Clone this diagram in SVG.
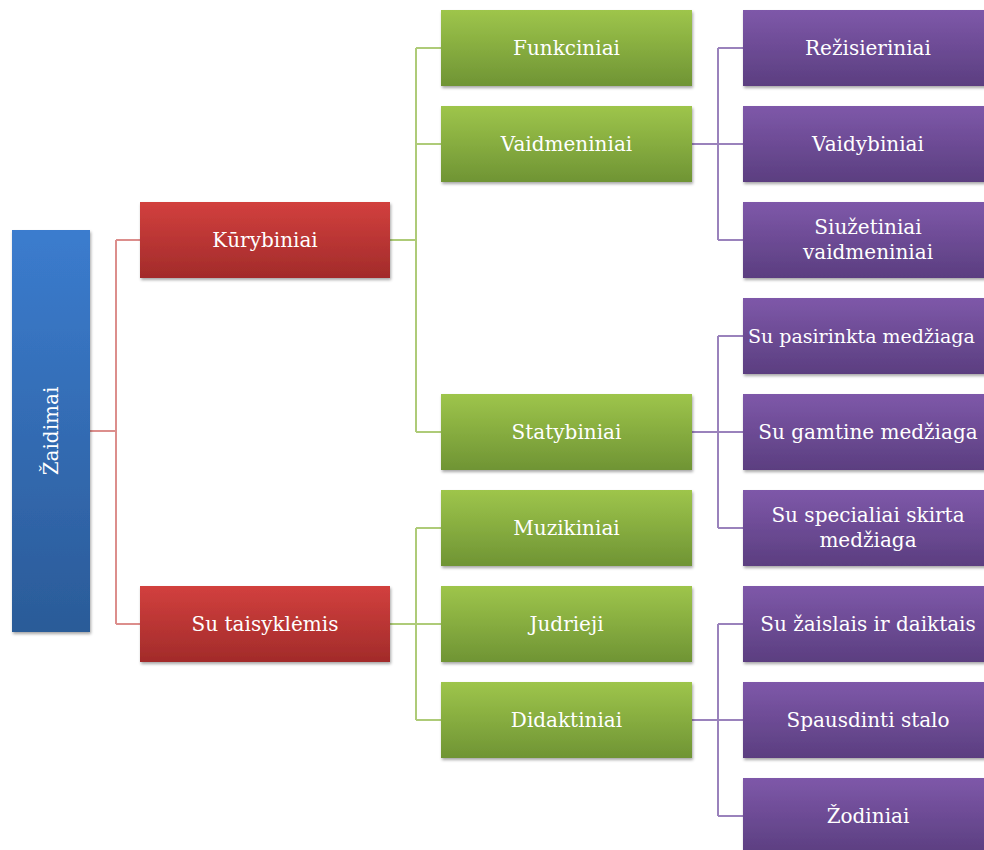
<svg xmlns="http://www.w3.org/2000/svg" width="984" height="850" viewBox="0 0 984 850">
<defs>
<linearGradient id="gBlue" x1="0" y1="0" x2="0" y2="1"><stop offset="0" stop-color="#3b7cce"/><stop offset="1" stop-color="#2b5b98"/></linearGradient>
<linearGradient id="gRed" x1="0" y1="0" x2="0" y2="1"><stop offset="0" stop-color="#d2403e"/><stop offset="1" stop-color="#a22b2a"/></linearGradient>
<linearGradient id="gGreen" x1="0" y1="0" x2="0" y2="1"><stop offset="0" stop-color="#9ec54b"/><stop offset="1" stop-color="#6f9434"/></linearGradient>
<linearGradient id="gPurple" x1="0" y1="0" x2="0" y2="1"><stop offset="0" stop-color="#7e58a9"/><stop offset="1" stop-color="#5b3e80"/></linearGradient>
<filter id="sh" x="-10%" y="-10%" width="120%" height="130%"><feDropShadow dx="1" dy="2" stdDeviation="1.5" flood-color="#000" flood-opacity="0.35"/></filter>
</defs>
<style>
.box{filter:url(#sh)}
.b{fill:url(#gBlue)}
.r{fill:url(#gRed)}
.g{fill:url(#gGreen)}
.p{fill:url(#gPurple)}
text{font-family:"DejaVu Serif","Liberation Serif",serif;font-size:20px;fill:#ffffff;text-anchor:middle}
.cr{fill:none;stroke:#dc8e8c;stroke-width:2}
.cg{fill:none;stroke:#aecb78;stroke-width:2}
.cp{fill:none;stroke:#9a82bc;stroke-width:2}
</style>
<rect width="984" height="850" fill="#ffffff"/>
<g id="connectors">
<path class="cr" d="M90 431H116M116 240V624M116 240H140M116 624H140"/>
<path class="cg" d="M390 240H416M416 48V432M416 48H441M416 144H441M416 432H441"/>
<path class="cg" d="M390 624H416M416 528V720M416 528H441M416 624H441M416 720H441"/>
<path class="cp" d="M692 144H718M718 48V240M718 48H743M718 144H743M718 240H743"/>
<path class="cp" d="M692 432H718M718 336V528M718 336H743M718 432H743M718 528H743"/>
<path class="cp" d="M692 720H718M718 624V816M718 624H743M718 720H743M718 816H743"/>
</g>
<g id="zaidimai"><rect class="box b" x="12" y="230" width="78" height="402"/><text transform="translate(58,431) rotate(-90)">Žaidimai</text></g>
<g id="kurybiniai"><rect class="box r" x="140" y="202" width="250" height="76"/><text x="265" y="247">Kūrybiniai</text></g>
<g id="su-taisyklemis"><rect class="box r" x="140" y="586" width="250" height="76"/><text x="265" y="631">Su taisyklėmis</text></g>
<g id="funkciniai"><rect class="box g" x="441" y="10" width="251" height="76"/><text x="566.5" y="55">Funkciniai</text></g>
<g id="vaidmeniniai"><rect class="box g" x="441" y="106" width="251" height="76"/><text x="566.5" y="151">Vaidmeniniai</text></g>
<g id="statybiniai"><rect class="box g" x="441" y="394" width="251" height="76"/><text x="566.5" y="439">Statybiniai</text></g>
<g id="muzikiniai"><rect class="box g" x="441" y="490" width="251" height="76"/><text x="566.5" y="535">Muzikiniai</text></g>
<g id="judrieji"><rect class="box g" x="441" y="586" width="251" height="76"/><text x="566.5" y="631">Judrieji</text></g>
<g id="didaktiniai"><rect class="box g" x="441" y="682" width="251" height="76"/><text x="566.5" y="727">Didaktiniai</text></g>
<g id="rezisieriniai"><rect class="box p" x="743" y="10" width="251" height="76"/><text x="868" y="55">Režisieriniai</text></g>
<g id="vaidybiniai"><rect class="box p" x="743" y="106" width="251" height="76"/><text x="868" y="151">Vaidybiniai</text></g>
<g id="siuzetiniai"><rect class="box p" x="743" y="202" width="251" height="76"/><text x="868" y="234">Siužetiniai</text><text x="868" y="259">vaidmeniniai</text></g>
<g id="su-pasirinkta"><rect class="box p" x="743" y="298" width="251" height="76"/><text x="748" y="343" style="text-anchor:start;font-size:19px">Su pasirinkta medžiaga</text></g>
<g id="su-gamtine"><rect class="box p" x="743" y="394" width="251" height="76"/><text x="868" y="439">Su gamtine medžiaga</text></g>
<g id="su-specialiai"><rect class="box p" x="743" y="490" width="251" height="76"/><text x="868" y="522">Su specialiai skirta</text><text x="868" y="547">medžiaga</text></g>
<g id="su-zaislais"><rect class="box p" x="743" y="586" width="251" height="76"/><text x="868" y="631">Su žaislais ir daiktais</text></g>
<g id="spausdinti"><rect class="box p" x="743" y="682" width="251" height="76"/><text x="868" y="727">Spausdinti stalo</text></g>
<g id="zodiniai"><rect class="box p" x="743" y="778" width="251" height="76"/><text x="868" y="823">Žodiniai</text></g>
</svg>
